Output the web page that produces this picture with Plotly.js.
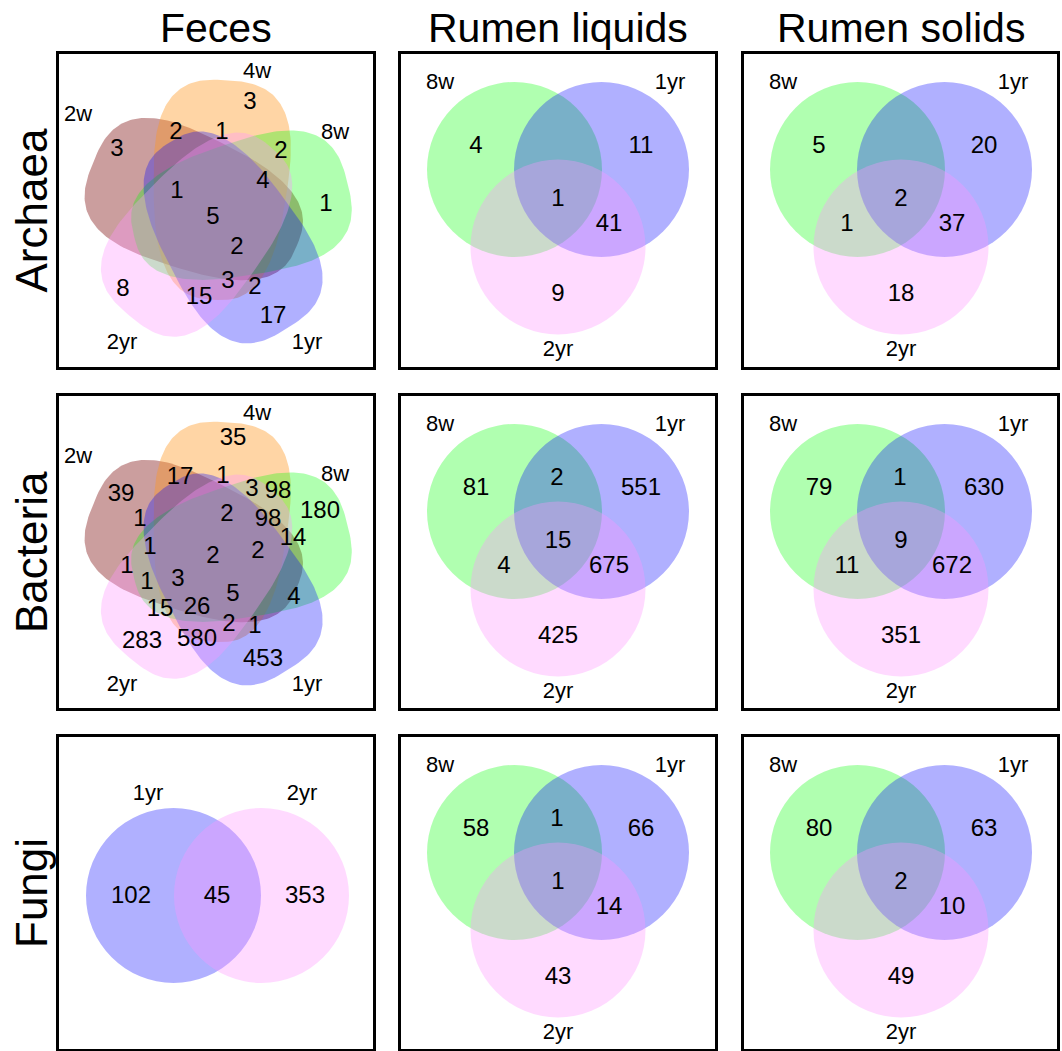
<!DOCTYPE html>
<html><head><meta charset="utf-8">
<script src="https://cdn.plot.ly/plotly-3.0.1.min.js"></script>
<style>html,body{margin:0;padding:0;background:#fff}#chart{width:1062px;height:1051px}</style>
</head><body><div id="chart"></div>
<script>
// ================= DATA =================
const columnTitles = ['Feces', 'Rumen liquids', 'Rumen solids'];
const rowTitles = ['Archaea', 'Bacteria', 'Fungi'];
const fiveSetNames = ['2w', '4w', '8w', '1yr', '2yr'];
const threeSetNames = ['8w', '1yr', '2yr'];
const twoSetNames = ['1yr', '2yr'];

// Feces (5 sets) region counts, in the order of the label slots below
const archaeaFeces = [3, 2, 1, 3, 2, 4, 1, 1, 5, 2, 3, 2, 15, 17, 8];
const bacteriaFeces = [35, 17, 1, 39, 3, 98, 180, 1, 2, 98, 14, 1, 2, 2, 1, 1, 3, 5, 4, 15, 26, 2, 1, 283, 580, 453];
// Rumen (3 sets) regions: 8w only, 8w&1yr, 1yr only, 8w&2yr, all, 1yr&2yr, 2yr only (null = not shown)
const archaeaLiquids = [4, null, 11, null, 1, 41, 9];
const archaeaSolids = [5, null, 20, 1, 2, 37, 18];
const bacteriaLiquids = [81, 2, 551, 4, 15, 675, 425];
const bacteriaSolids = [79, 1, 630, 11, 9, 672, 351];
const fungiLiquids = [58, 1, 66, null, 1, 14, 43];
const fungiSolids = [80, null, 63, null, 2, 10, 49];
// Fungi feces (2 sets): 1yr only, both, 2yr only
const fungiFeces = [102, 45, 353];

// ================= LAYOUT CONFIG (positions / styles) =================
const W = 1062, H = 1051;
const colBounds = [[59, 373], [401, 715], [744, 1057]];
const rowBounds = [[54, 367], [396, 708], [737, 1049]];
const FONT = 'Liberation Sans, Arial, sans-serif';
const NUM_SIZE = 24, LAB_SIZE = 22;

const setColors = {
  '2w': 'rgba(140,40,40,0.45)',
  '4w': 'rgba(255,150,30,0.40)',
  '8w': 'rgba(0,255,0,0.31)',
  '1yr': 'rgba(0,0,255,0.31)',
  '2yr': 'rgba(255,150,255,0.35)'
};

// three-set geometry (panel-relative px)
const threeCircles = { '8w': [113.5, 115.5], '1yr': [200.5, 115.5], '2yr': [157, 193] };
const threeR = 87.5;
const threeSlots = [[75, 93], [156, 83], [240, 93], [103, 171], [157, 146], [208, 171], [157, 241]];
const threeLabelPos = [[39, 29], [269, 29], [157, 296]];

// two-set geometry
const twoCircles = { '1yr': [114.5, 158.5], '2yr': [202.5, 158.5] };
const twoSlots = [[72, 160], [158, 160], [246, 160]];
const twoLabelPos = [[89, 57], [243, 57]];

// five-set geometry (rounded blobs, rotated 72 deg apart)
const fiveCenter = [158, 160];
const fiveOffset = [3, -24];   // offset of the 4w shape centre
const fiveAxisAngle = 94;      // deg, head->tail direction of 4w shape
const fiveA = 110, fiveBHead = 75, fiveBTail = 58, fiveN = 2.8;
const fiveLabelPos = [[19, 61], [198, 18], [276, 79], [248, 289], [63, 289]];
const archaeaFecesSlots = [[58,96],[117,79],[163,79],[191,49],[222,98],[204,128],[267,151],[118,138],[154,164],[178,194],[169,228],[196,234],[140,244],[214,263],[64,236]];
const bacteriaFecesSlots = [[174,43],[121,82],[164,81],[62,99],[193,94],[219,96],[261,116],[81,124],[168,119],[209,124],[234,143],[91,152],[154,161],[199,156],[68,171],[88,187],[119,184],[174,199],[235,202],[101,214],[138,212],[170,229],[196,231],[83,246],[138,244],[204,264]];

// ================= BUILD =================
const traces = [];
const shapes = [];
const annotations = [];
const layout = {
  width: W, height: H,
  margin: { l: 0, r: 0, t: 0, b: 0 },
  paper_bgcolor: '#fff', plot_bgcolor: 'rgba(0,0,0,0)',
  showlegend: false,
  font: { family: FONT, color: '#000' },
  shapes: shapes, annotations: annotations
};

function axName(p, k) { return k + (p === 0 ? '' : (p + 1)); }

for (let r = 0; r < 3; r++) {
  for (let c = 0; c < 3; c++) {
    const p = r * 3 + c;
    const [L, R] = colBounds[c];
    const [T, B] = rowBounds[r];
    const ax = {
      domain: [L / W, R / W], range: [0, R - L], autorange: false,
      showline: true, mirror: true, linewidth: 3, linecolor: '#000',
      showgrid: false, zeroline: false, showticklabels: false, ticks: '', fixedrange: true
    };
    const ay = Object.assign({}, ax, { domain: [1 - B / H, 1 - T / H], range: [B - T, 0] });
    layout['xaxis' + (p === 0 ? '' : p + 1)] = Object.assign(ax, { anchor: axName(p, 'y') });
    layout['yaxis' + (p === 0 ? '' : p + 1)] = Object.assign(ay, { anchor: axName(p, 'x') });
  }
}

function textTrace(p, xs, ys, texts, size) {
  traces.push({
    type: 'scatter', mode: 'text', x: xs, y: ys, text: texts,
    textposition: 'middle center', cliponaxis: false, hoverinfo: 'skip',
    textfont: { family: FONT, size: size, color: '#000' },
    xaxis: axName(p, 'x'), yaxis: axName(p, 'y')
  });
}

function circleShape(p, cx, cy, rad, color) {
  shapes.push({
    type: 'circle', xref: axName(p, 'x'), yref: axName(p, 'y'), layer: 'below',
    x0: cx - rad, x1: cx + rad, y0: cy - rad, y1: cy + rad,
    fillcolor: color, line: { width: 0 }
  });
}

function threeSet(p, counts) {
  threeSetNames.forEach(n => circleShape(p, threeCircles[n][0], threeCircles[n][1], threeR, setColors[n]));
  const xs = [], ys = [], ts = [];
  counts.forEach((v, i) => { if (v !== null) { xs.push(threeSlots[i][0]); ys.push(threeSlots[i][1]); ts.push(String(v)); } });
  textTrace(p, xs, ys, ts, NUM_SIZE);
  textTrace(p, threeLabelPos.map(d => d[0]), threeLabelPos.map(d => d[1]), threeSetNames, LAB_SIZE);
}

function twoSet(p, counts) {
  twoSetNames.forEach(n => circleShape(p, twoCircles[n][0], twoCircles[n][1], threeR, setColors[n]));
  textTrace(p, twoSlots.map(d => d[0]), twoSlots.map(d => d[1]), counts.map(String), NUM_SIZE);
  textTrace(p, twoLabelPos.map(d => d[0]), twoLabelPos.map(d => d[1]), twoSetNames, LAB_SIZE);
}

function blob(cx, cy, a, bh, bt, angDeg, n) {
  const xs = [], ys = [];
  const ang = angDeg * Math.PI / 180, ca = Math.cos(ang), sa = Math.sin(ang);
  for (let i = 0; i <= 200; i++) {
    const t = i / 200 * 2 * Math.PI;
    const ct = Math.cos(t), st = Math.sin(t);
    const x0 = a * Math.sign(ct) * Math.pow(Math.abs(ct), 2 / n);
    const b = bh + (bt - bh) * (x0 / a + 1) / 2;   // head (x0<0) wider than tail
    const y0 = b * Math.sign(st) * Math.pow(Math.abs(st), 2 / n);
    xs.push(cx + x0 * ca - y0 * sa);
    ys.push(cy + x0 * sa + y0 * ca);
  }
  return [xs, ys];
}

function fiveSet(p, counts, slots) {
  fiveSetNames.forEach((n, k) => {
    const rot = (k - 1) * 72 * Math.PI / 180;
    const cx = fiveCenter[0] + fiveOffset[0] * Math.cos(rot) - fiveOffset[1] * Math.sin(rot);
    const cy = fiveCenter[1] + fiveOffset[0] * Math.sin(rot) + fiveOffset[1] * Math.cos(rot);
    const [xs, ys] = blob(cx, cy, fiveA, fiveBHead, fiveBTail, fiveAxisAngle + (k - 1) * 72, fiveN);
    traces.push({
      type: 'scatter', mode: 'lines', x: xs, y: ys, fill: 'toself',
      fillcolor: setColors[n], line: { width: 0, color: 'rgba(0,0,0,0)' }, hoverinfo: 'skip',
      xaxis: axName(p, 'x'), yaxis: axName(p, 'y')
    });
  });
  textTrace(p, slots.map(d => d[0]), slots.map(d => d[1]), counts.map(String), NUM_SIZE);
  textTrace(p, fiveLabelPos.map(d => d[0]), fiveLabelPos.map(d => d[1]), fiveSetNames, LAB_SIZE);
}

fiveSet(0, archaeaFeces, archaeaFecesSlots);
threeSet(1, archaeaLiquids);
threeSet(2, archaeaSolids);
fiveSet(3, bacteriaFeces, bacteriaFecesSlots);
threeSet(4, bacteriaLiquids);
threeSet(5, bacteriaSolids);
twoSet(6, fungiFeces);
threeSet(7, fungiLiquids);
threeSet(8, fungiSolids);

// titles
columnTitles.forEach((t, c) => {
  annotations.push({
    text: t, xref: 'paper', yref: 'paper', showarrow: false,
    x: (colBounds[c][0] + colBounds[c][1]) / 2 / W, y: 1 - 28 / H,
    xanchor: 'center', yanchor: 'middle', font: { family: FONT, size: 41, color: '#000' }
  });
});
rowTitles.forEach((t, r) => {
  annotations.push({
    text: t, xref: 'paper', yref: 'paper', showarrow: false, textangle: -90,
    x: 31 / W, y: 1 - (rowBounds[r][0] + rowBounds[r][1]) / 2 / H,
    xanchor: 'center', yanchor: 'middle', font: { family: FONT, size: 44, color: '#000' }
  });
});

Plotly.newPlot('chart', traces, layout, { staticPlot: true, displayModeBar: false });
</script>
</body></html>
